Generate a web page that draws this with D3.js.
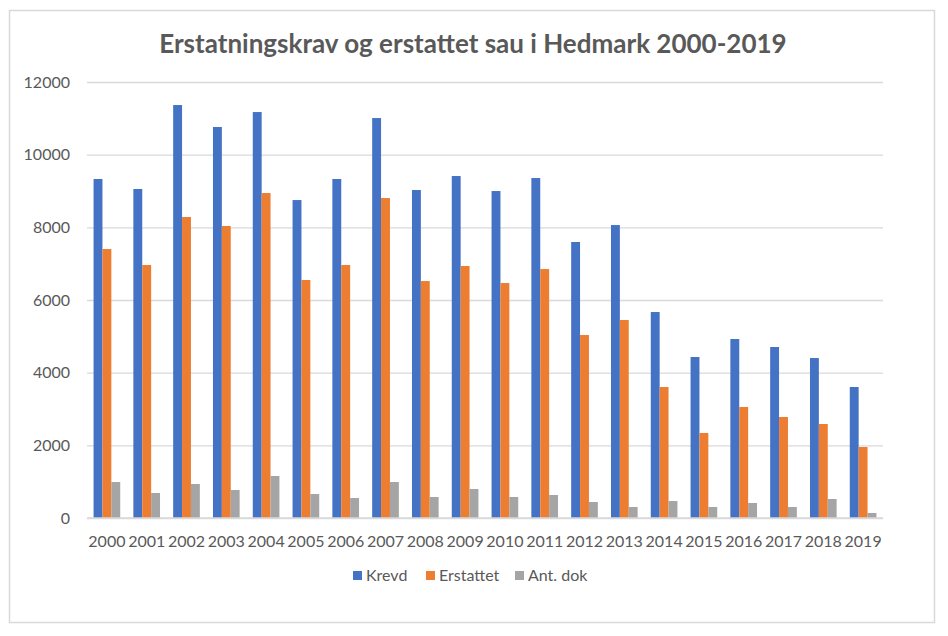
<!DOCTYPE html>
<html>
<head>
<meta charset="utf-8">
<script src="https://cdn.jsdelivr.net/npm/d3@7"></script>
<style>
  body { margin: 0; background: #fff; }
  svg { display: block; font-family: Lato, "Open Sans", sans-serif; }
</style>
</head>
<body>
<svg id="chart" width="948" height="636"></svg>
<script>
const years = ["2000","2001","2002","2003","2004","2005","2006","2007","2008","2009",
               "2010","2011","2012","2013","2014","2015","2016","2017","2018","2019"];
const krevd     = [9330, 9055, 11366, 10761, 11173, 8751, 9330, 11008, 9027, 9412,
                   8999, 9357, 7596, 8063, 5669, 4431, 4926, 4706, 4403, 3605];
const erstattet = [7403, 6963, 8284, 8036, 8944, 6550, 6963, 8806, 6522, 6935,
                   6467, 6852, 5036, 5449, 3605, 2339, 3055, 2780, 2587, 1954];
const antDok    = [990, 688, 936, 770, 1156, 660, 550, 990, 578, 798,
                   578, 633, 440, 303, 468, 303, 413, 303, 523, 138];
const seriesNames = ["Krevd", "Erstattet", "Ant. dok"];
const yTicks = [0, 2000, 4000, 6000, 8000, 10000, 12000];

const colors = ["#4472C4", "#ED7D31", "#A5A5A5"];
const textColor = "#595959";
const gridColor = "#D9D9D9";
const margin = {top: 82, bottom: 118, left: 87, right: 65};

const svg = d3.select("#chart");
const width = +svg.attr("width");
const height = +svg.attr("height");

// chart frame
svg.append("rect")
    .attr("x", 9.5).attr("y", 10.5)
    .attr("width", 925).attr("height", 612)
    .attr("fill", "#fff")
    .attr("stroke", gridColor)
    .attr("stroke-width", 1.5);

svg.append("text")
    .attr("x", 473).attr("y", 53)
    .attr("text-anchor", "middle")
    .attr("fill", textColor)
    .attr("font-size", 26)
    .attr("font-weight", "bold")
    .text("Erstatningskrav og erstattet sau i Hedmark 2000-2019");

const x = d3.scaleBand()
    .domain(years)
    .range([margin.left, width - margin.right])
    .paddingInner(0.33)
    .paddingOuter(0.165);

const xs = d3.scaleBand()
    .domain(seriesNames)
    .range([0, x.bandwidth()]);

const y = d3.scaleLinear()
    .domain([0, 12000])
    .range([height - margin.bottom, margin.top]);

// gridlines + y labels
const yAxis = svg.append("g")
    .attr("transform", `translate(${margin.left},0)`)
    .call(d3.axisLeft(y).tickValues(yTicks).tickFormat(d3.format("d"))
        .tickSize(-(width - margin.left - margin.right)).tickPadding(17));
yAxis.select(".domain").remove();
yAxis.selectAll(".tick line").attr("stroke", gridColor).attr("stroke-width", 1.3);
yAxis.selectAll(".tick text")
    .attr("fill", textColor)
    .attr("font-size", 16)
    .attr("font-family", "Lato, sans-serif");

const data = years.map((yr, i) => ({year: yr, values: [krevd[i], erstattet[i], antDok[i]]}));

svg.append("g").selectAll("g")
    .data(data)
    .join("g")
    .attr("transform", d => `translate(${x(d.year)},0)`)
    .selectAll("rect")
    .data(d => d.values.map((v, j) => ({name: seriesNames[j], value: v, j: j})))
    .join("rect")
    .attr("x", d => xs(d.name))
    .attr("y", d => y(d.value))
    .attr("width", xs.bandwidth())
    .attr("height", d => y(0) - y(d.value))
    .attr("fill", d => colors[d.j]);

// x labels
const xAxis = svg.append("g")
    .attr("transform", `translate(0,${height - margin.bottom})`)
    .call(d3.axisBottom(x).tickSize(0).tickPadding(18));
xAxis.select(".domain").attr("stroke", gridColor).attr("stroke-width", 1.3)
    .attr("d", `M${margin.left},0H${width - margin.right}`);
xAxis.selectAll(".tick text")
    .attr("fill", textColor)
    .attr("font-size", 16)
    .attr("font-family", "Lato, sans-serif");

// legend
const legendX = [353, 426, 515];
const legend = svg.append("g").selectAll("g")
    .data(seriesNames)
    .join("g")
    .attr("transform", (d, i) => `translate(${legendX[i]},571)`);
legend.append("rect")
    .attr("width", 9).attr("height", 9)
    .attr("fill", (d, i) => colors[i]);
legend.append("text")
    .attr("x", 13).attr("y", 10)
    .attr("fill", textColor)
    .attr("font-size", 16)
    .text(d => d);
</script>
</body>
</html>
